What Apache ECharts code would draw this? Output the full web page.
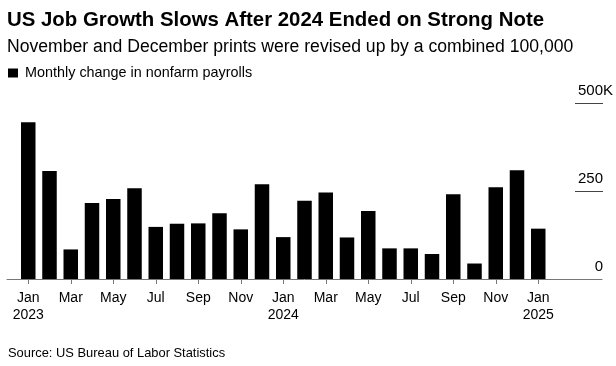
<!DOCTYPE html>
<html>
<head>
<meta charset="utf-8">
<script src="https://cdn.jsdelivr.net/npm/echarts@6/dist/echarts.min.js"></script>
<style>
  html, body { margin: 0; padding: 0; background: #fff; }
  #chart { width: 616px; height: 366px; }
</style>
</head>
<body>
<div id="chart"></div>
<script>
// Categories (index 0 and trailing entries are empty padding months of the axis)
const categories = ['',
  'Jan\n2023','Feb','Mar','Apr','May','Jun','Jul','Aug','Sep','Oct','Nov','Dec',
  'Jan\n2024','Feb','Mar','Apr','May','Jun','Jul','Aug','Sep','Oct','Nov','Dec',
  'Jan\n2025','Feb','Mar','Apr'];
// Monthly change in nonfarm payrolls, thousands
const payrolls = [null,
  445, 307, 84, 216, 227, 258, 148, 157, 158, 187, 141, 269,
  119, 222, 246, 118, 193, 87, 87, 71, 241, 44, 261, 309,
  143, null, null, null];
const yTicks = [0, 250, 500];
const yTickLabels = ['0', '250', '500K'];

const FONT = 'Liberation Sans, Arial, sans-serif';
const lastDataIndex = 25;
const showTick = (i) => i % 2 === 1 && i <= lastDataIndex;
const chart = echarts.init(document.getElementById('chart'), null, { renderer: 'canvas' });
chart.setOption({
  animation: false,
  backgroundColor: '#fff',
  textStyle: { fontFamily: FONT },
  title: [
    { text: 'US Job Growth Slows After 2024 Ended on Strong Note', left: 7, top: 10, padding: 0,
      textStyle: { fontSize: 20.4, fontWeight: 'bold', color: '#000', fontFamily: FONT } },
    { text: 'November and December prints were revised up by a combined 100,000', left: 7, top: 38, padding: 0,
      textStyle: { fontSize: 17.6, fontWeight: 'normal', color: '#000', fontFamily: FONT } },
    { text: 'Source: US Bureau of Labor Statistics', left: 8, top: 347, padding: 0,
      textStyle: { fontSize: 12.9, fontWeight: 'normal', color: '#000', fontFamily: FONT } }
  ],
  legend: {
    left: 8, top: 66, padding: 0, icon: 'rect', itemWidth: 10, itemHeight: 9, itemGap: 10,
    textStyle: { fontSize: 14.4, color: '#000', padding: [0, 0, 0, 2], fontFamily: FONT },
    data: ['Monthly change in nonfarm payrolls']
  },
  grid: [
    { left: 7, right: 14, top: 103, bottom: 87 },
    { left: 575, right: 13, top: 103, bottom: 87 }
  ],
  xAxis: [
    { type: 'category', gridIndex: 0, data: categories, boundaryGap: false,
      axisLine: { lineStyle: { color: '#777', width: 1 } },
      axisTick: { length: 5, lineStyle: { color: '#777' }, interval: showTick },
      axisLabel: { interval: showTick, color: '#000', fontSize: 14, lineHeight: 17,
        margin: 11, fontFamily: FONT } },
    { type: 'value', gridIndex: 1, show: false, min: 0, max: 1 }
  ],
  yAxis: [
    { type: 'value', gridIndex: 0, min: 0, max: 500, interval: 250, show: false },
    { type: 'value', gridIndex: 1, min: 0, max: 500, interval: 250,
      axisLine: { show: false }, axisTick: { show: false },
      splitLine: { show: true, showMinLine: false, lineStyle: { color: '#444', width: 1 } },
      axisLabel: {
        inside: true, align: 'right', verticalAlign: 'bottom', margin: 38,
        formatter: (v) => {
          const lbl = yTickLabels[yTicks.indexOf(v)];
          return v === 500 ? '{k|' + lbl + '}' : '{n|' + lbl + '}';
        },
        rich: {
          k: { fontSize: 15, color: '#000', padding: [0, 0, 5, 0], fontFamily: FONT },
          n: { fontSize: 15, color: '#000', padding: [0, 10, 5, 0], fontFamily: FONT }
        }
      } }
  ],
  series: [
    { name: 'Monthly change in nonfarm payrolls', type: 'bar', xAxisIndex: 0, yAxisIndex: 0,
      data: payrolls, barWidth: 14.5, itemStyle: { color: '#000' } }
  ]
});
</script>
</body>
</html>
